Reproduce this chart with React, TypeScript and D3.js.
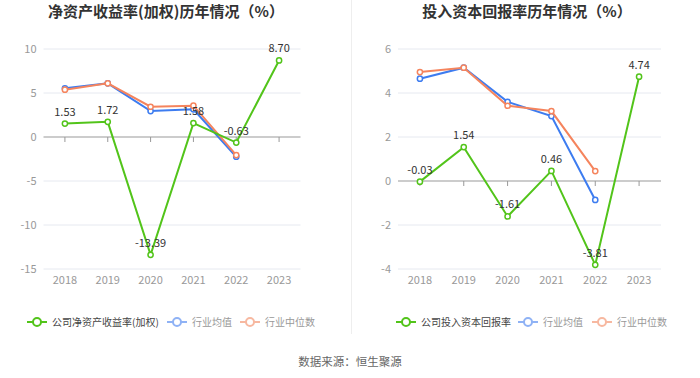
import React from "react";
import * as d3 from "d3";

const years = ["2018", "2019", "2020", "2021", "2022", "2023"];

const roeCompany = [1.53, 1.72, -13.39, 1.58, -0.63, 8.7];
const roeAvg = [5.53, 6.1, 2.95, 3.14, -2.24];
const roeMedian = [5.38, 6.1, 3.44, 3.56, -2.05];
const roeTicks = [10, 5, 0, -5, -10, -15];

const roicCompany = [-0.03, 1.54, -1.61, 0.46, -3.81, 4.74];
const roicAvg = [4.65, 5.15, 3.6, 2.95, -0.86];
const roicMedian = [4.95, 5.15, 3.42, 3.18, 0.45];
const roicTicks = [6, 4, 2, 0, -2, -4];

const GREEN = "#52c41a";
const BLUE = "#3d7cf0";
const ORANGE = "#f5845d";
const BLUE_L = "#8fb2f5";
const ORANGE_L = "#f7b8a0";
const FONT = "'Noto Sans CJK SC', 'Noto Sans', sans-serif";

type PanelProps = {
  title: string;
  titleX: number;
  x0: number;
  x1: number;
  domain: [number, number];
  ticks: number[];
  company: number[];
  avg: number[];
  median: number[];
  legendName: string;
  legendX: number[];
};

function Panel(p: PanelProps) {
  const x = d3.scaleBand<string>().domain(years).range([p.x0, p.x1]);
  const y = d3.scaleLinear().domain(p.domain).range([269, 49]);
  const cx = (i: number) => (x(years[i]) as number) + x.bandwidth() / 2;
  const line = d3
    .line<number>()
    .x((_, i) => cx(i))
    .y((d) => y(d));

  const series = [
    { data: p.avg, color: BLUE },
    { data: p.median, color: ORANGE },
    { data: p.company, color: GREEN },
  ];

  const legendItems = [
    { name: p.legendName, color: GREEN, text: "#444" },
    { name: "行业均值", color: BLUE_L, text: "#999" },
    { name: "行业中位数", color: ORANGE_L, text: "#999" },
  ];

  return (
    <g>
      <text
        x={p.titleX}
        y={17}
        textAnchor="middle"
        fontSize={15}
        fontWeight="bold"
        fill="#333"
        fontFamily={FONT}
      >
        {p.title}
      </text>
      {p.ticks.map((t) => (
        <g key={t}>
          <line
            x1={p.x0}
            x2={p.x1}
            y1={y(t)}
            y2={y(t)}
            stroke={t === 0 ? "#999" : "#e6e9f0"}
            strokeWidth={1}
          />
          <text
            x={p.x0 - 7}
            y={y(t) + 4}
            textAnchor="end"
            fontSize={11}
            fill="#999"
            fontFamily={FONT}
          >
            {t}
          </text>
        </g>
      ))}
      {years.map((yr, i) => (
        <g key={yr}>
          <line x1={cx(i)} x2={cx(i)} y1={y(0)} y2={y(0) + 5} stroke="#999" />
          <text
            x={cx(i)}
            y={284}
            textAnchor="middle"
            fontSize={11}
            fill="#999"
            fontFamily={FONT}
          >
            {yr}
          </text>
        </g>
      ))}
      {series.map((s, si) => (
        <g key={si}>
          <path d={line(s.data) || ""} fill="none" stroke={s.color} strokeWidth={2} />
          {s.data.map((d, i) => (
            <circle
              key={i}
              cx={cx(i)}
              cy={y(d)}
              r={2.6}
              fill="#fff"
              stroke={s.color}
              strokeWidth={1.5}
            />
          ))}
        </g>
      ))}
      {p.company.map((d, i) => (
        <text
          key={i}
          x={cx(i)}
          y={y(d) - 8}
          textAnchor="middle"
          fontSize={11}
          fill="#333"
          fontFamily={FONT}
        >
          {d.toFixed(2)}
        </text>
      ))}
      {legendItems.map((it, i) => {
        const lx = p.legendX[i];
        return (
          <g key={i}>
            <line x1={lx} x2={lx + 20} y1={322} y2={322} stroke={it.color} strokeWidth={2} />
            <circle cx={lx + 10} cy={322} r={4} fill="#fff" stroke={it.color} strokeWidth={2} />
            <text
              x={lx + 25}
              y={325.5}
              fontSize={10}
              fill={it.text}
              fontFamily={FONT}
            >
              {it.name}
            </text>
          </g>
        );
      })}
    </g>
  );
}

export default function App() {
  return (
    <svg
      width={700}
      height={378}
      style={{ position: "absolute", left: 0, top: 0, background: "#fff" }}
    >
      <rect width={700} height={378} fill="#fff" />
      <line x1={351.5} x2={351.5} y1={0} y2={334} stroke="#eeeeee" />
      <Panel
        title="净资产收益率(加权)历年情况（%）"
        titleX={166}
        x0={43.5}
        x1={300.5}
        domain={[-15, 10]}
        ticks={roeTicks}
        company={roeCompany}
        avg={roeAvg}
        median={roeMedian}
        legendName="公司净资产收益率(加权)"
        legendX={[27, 167, 240]}
      />
      <Panel
        title="投入资本回报率历年情况（%）"
        titleX={527}
        x0={398}
        x1={661}
        domain={[-4, 6]}
        ticks={roicTicks}
        company={roicCompany}
        avg={roicAvg}
        median={roicMedian}
        legendName="公司投入资本回报率"
        legendX={[396, 518, 592]}
      />
      <text
        x={350}
        y={366}
        textAnchor="middle"
        fontSize={11.5}
        fill="#666"
        fontFamily={FONT}
      >
        数据来源：恒生聚源
      </text>
    </svg>
  );
}
